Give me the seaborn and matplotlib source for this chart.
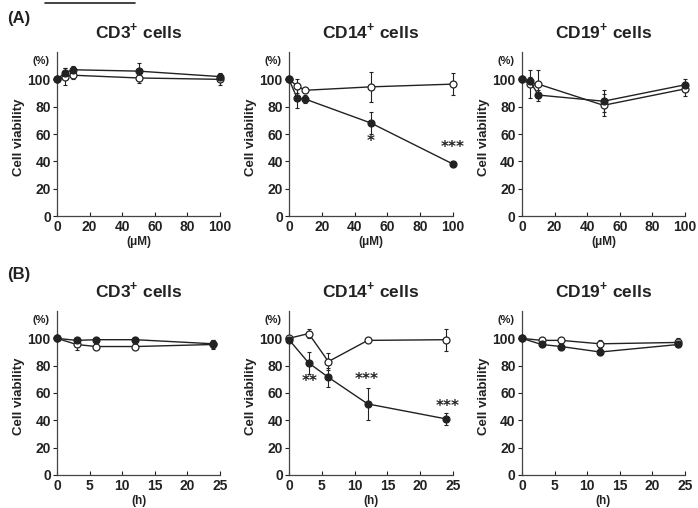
import matplotlib
matplotlib.use("Agg")
import matplotlib.pyplot as plt
from matplotlib.lines import Line2D
import seaborn as sns
import pandas as pd

# (A) concentration, (B) time
conc_um = [0, 5, 10, 50, 100]
time_h = [0, 3, 6, 12, 24]

cd3_a_filled = [100, 105, 107, 106, 102]
cd3_a_filled_err = [0, 3, 3, 6, 3]
cd3_a_open = [100, 102, 103, 101, 100]
cd3_a_open_err = [0, 6, 3, 4, 4]

cd14_a_filled = [100, 86, 85.5, 68, 38]
cd14_a_filled_err = [0, 7, 3, 8, 2]
cd14_a_open = [100, 95, 92, 94.5, 96.5]
cd14_a_open_err = [0, 5, 2, 11, 8]

cd19_a_filled = [100, 98.5, 88.5, 84, 96]
cd19_a_filled_err = [0, 3, 4, 8, 4]
cd19_a_open = [100, 96.5, 96.5, 81, 93]
cd19_a_open_err = [0, 10, 10, 8, 5]

cd3_b_filled = [100, 98.5, 99, 99, 96]
cd3_b_filled_err = [0, 2, 1, 2, 3]
cd3_b_open = [100, 95.5, 94, 94, 95.5]
cd3_b_open_err = [0, 4, 1, 2, 3]

cd14_b_filled = [99, 82, 71.5, 52, 41]
cd14_b_filled_err = [0, 8, 7, 12, 4.5]
cd14_b_open = [100, 103.5, 83, 98.5, 99]
cd14_b_open_err = [0, 3, 6, 1, 8]

cd19_b_filled = [100, 95.5, 94, 90, 95.5]
cd19_b_filled_err = [0, 2, 1.5, 2.5, 2]
cd19_b_open = [100, 98.5, 98.5, 96, 97]
cd19_b_open_err = [0, 2, 2, 3, 3]

titles = ["CD3", "CD14", "CD19"]
a_ticks = [0, 20, 40, 60, 80, 100]
b_ticks = [0, 5, 10, 15, 20, 25]
y_ticks = [0, 20, 40, 60, 80, 100]

# significance marks: (x, y, text)
stars_a = [(50, 54.5, "*"), (100, 50, "***")]
stars_b = [(3.2, 68.5, "**"), (11.8, 70, "***"), (24.2, 50, "***")]

sns.set_style("ticks")
plt.rcParams["font.family"] = ["Liberation Sans", "DejaVu Sans"]
plt.rcParams["mathtext.fontset"] = "custom"
plt.rcParams["mathtext.bf"] = "Liberation Sans:bold"

INK = "#222222"
W, H = 698, 508
fig = plt.figure(figsize=(W / 100, H / 100), dpi=100)


def px_axes(left, right, top, bottom):
    return fig.add_axes([left / W, 1 - bottom / H, (right - left) / W, (bottom - top) / H])


def draw_panel(ax, x, filled, ferr, opened, oerr, title, xlim, xticks, xlabel, stars):
    df = pd.DataFrame({"x": x * 2,
                       "v": filled + opened,
                       "g": ["filled"] * len(x) + ["open"] * len(x)})
    ax.errorbar(x, filled, yerr=ferr, fmt="none", ecolor=INK, elinewidth=0.8,
                capsize=1.5, capthick=0.8, zorder=2, clip_on=False)
    ax.errorbar(x, opened, yerr=oerr, fmt="none", ecolor=INK, elinewidth=0.8,
                capsize=1.5, capthick=0.8, zorder=2, clip_on=False)
    sns.lineplot(data=df[df.g == "open"], x="x", y="v", ax=ax, color=INK, lw=1.0,
                 marker="o", markersize=5, markerfacecolor="white",
                 markeredgecolor=INK, markeredgewidth=0.9, zorder=3, clip_on=False)
    sns.lineplot(data=df[df.g == "filled"], x="x", y="v", ax=ax, color=INK, lw=1.0,
                 marker="o", markersize=5, markerfacecolor=INK,
                 markeredgecolor=INK, markeredgewidth=0.9, zorder=4, clip_on=False)
    for sx, sy, s in stars:
        ax.text(sx, sy, s, ha="center", va="center", fontsize=11,
                fontweight="bold", color=INK, family="DejaVu Sans")
    ax.set_xlim(xlim)
    ax.set_ylim(0, 120)
    ax.set_xticks(xticks)
    ax.set_yticks(y_ticks)
    ax.tick_params(axis="x", direction="in", length=3, width=0.8, colors=INK,
                   labelsize=10, pad=3)
    ax.tick_params(axis="y", direction="out", length=3, width=0.8, colors=INK,
                   labelsize=10, pad=1.5)
    for lab in ax.get_xticklabels() + ax.get_yticklabels():
        lab.set_fontweight("bold")
    sns.despine(ax=ax)
    for sp in ("left", "bottom"):
        ax.spines[sp].set_color("#444444")
        ax.spines[sp].set_linewidth(0.9)
    ax.set_title(r"%s$^{\mathbf{+}}$ cells" % title, fontsize=12.5,
                 fontweight="bold", pad=10, color=INK)
    ax.set_ylabel("Cell viability", fontsize=9.5, fontweight="bold", color=INK)
    ax.yaxis.set_label_coords(-0.195, 0.48)
    ax.set_xlabel(xlabel, fontsize=8.5, fontweight="bold", color=INK)
    ax.xaxis.set_label_coords(0.5, -0.12)
    ax.text(-0.10, 0.945, "(%)", transform=ax.transAxes, ha="center",
            va="center", fontsize=8, fontweight="bold", color=INK)


cols = [(57, 220), (289, 453), (522, 685)]
a_sets = [
    (cd3_a_filled, cd3_a_filled_err, cd3_a_open, cd3_a_open_err, []),
    (cd14_a_filled, cd14_a_filled_err, cd14_a_open, cd14_a_open_err, stars_a),
    (cd19_a_filled, cd19_a_filled_err, cd19_a_open, cd19_a_open_err, []),
]
b_sets = [
    (cd3_b_filled, cd3_b_filled_err, cd3_b_open, cd3_b_open_err, []),
    (cd14_b_filled, cd14_b_filled_err, cd14_b_open, cd14_b_open_err, stars_b),
    (cd19_b_filled, cd19_b_filled_err, cd19_b_open, cd19_b_open_err, []),
]

for (l, r), name, (f, fe, o, oe, st) in zip(cols, titles, a_sets):
    ax = px_axes(l, r, 52, 216)
    draw_panel(ax, conc_um, f, fe, o, oe, name, (0, 100), a_ticks, "(μM)", st)

for (l, r), name, (f, fe, o, oe, st) in zip(cols, titles, b_sets):
    ax = px_axes(l, r, 311, 475)
    draw_panel(ax, time_h, f, fe, o, oe, name, (0, 25), b_ticks, "(h)", st)

fig.text(7 / W, 1 - 18 / H, "(A)", fontsize=12, fontweight="bold", va="center", color=INK)
fig.text(7 / W, 1 - 275 / H, "(B)", fontsize=12, fontweight="bold", va="center", color=INK)

# leftover rule at the very top of the figure
fig.add_artist(Line2D([45 / W, 135 / W], [1 - 3 / H, 1 - 3 / H], color=INK, lw=1.2))

fig.savefig("out.png", dpi=100)
